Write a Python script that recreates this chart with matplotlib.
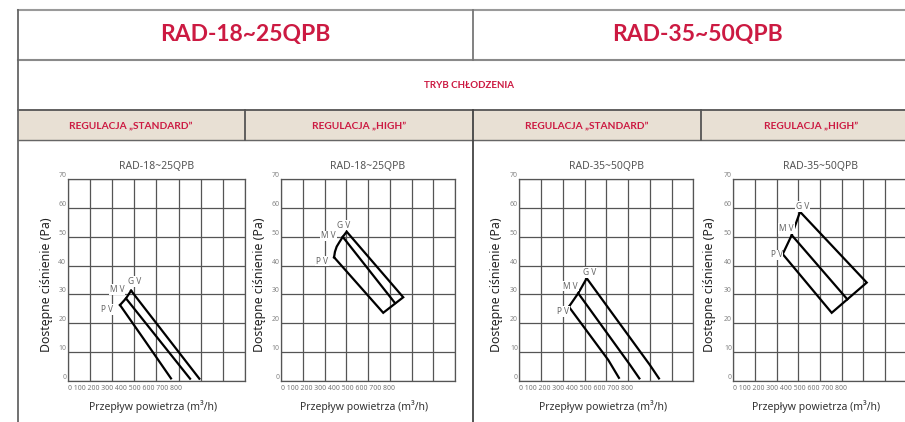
import matplotlib
matplotlib.use("Agg")
import matplotlib.pyplot as plt
from matplotlib.patches import Rectangle

plt.rcParams['font.family'] = ['Noto Sans', 'DejaVu Sans']

W, H = 905, 422
RED = '#CC1A42'
GRID = '#555555'
BOLD = ['Lato', 'DejaVu Sans']

# --- data (m3/h, Pa) ---
model_titles = ['RAD-18~25QPB', 'RAD-35~50QPB']
mode_title = 'TRYB CHŁODZENIA'
header_labels = ['REGULACJA „STANDARD”', 'REGULACJA „HIGH”',
                 'REGULACJA „STANDARD”', 'REGULACJA „HIGH”']
chart_titles = ['RAD-18~25QPB', 'RAD-18~25QPB', 'RAD-35~50QPB', 'RAD-35~50QPB']
y_ticks = [0, 10, 20, 30, 40, 50, 60, 70]
x_grid = [0, 100, 200, 300, 400, 500, 600, 700, 800]
x_tick_text = '0 100 200 300 400 500 600 700 800'
y_label = 'Dostępne ciśnienie (Pa)'
x_label = 'Przepływ powietrza (m³/h)'

# chart 1: RAD-18~25 standard
c1_pv_x = [236, 352, 466]
c1_pv_y = [26.3, 13.5, 0.8]
c1_mv_x = [263, 552]
c1_mv_y = [28.6, 0.7]
c1_gv_x = [286, 594]
c1_gv_y = [31.3, 0.7]
c1_edge_x = [236, 263, 286]
c1_edge_y = [26.3, 28.6, 31.3]

# chart 2: RAD-18~25 high (outline + MV line)
c2_out_x = [244, 248, 256, 268, 284, 302, 562, 470, 244]
c2_out_y = [42.9, 44.8, 46.6, 48.1, 50.0, 51.8, 29.0, 23.6, 42.9]
c2_mv_x = [284, 524]
c2_mv_y = [50.0, 27.0]

# chart 3: RAD-35~50 standard
c3_pv_x = [228, 409, 458]
c3_pv_y = [25.7, 7.2, 1.0]
c3_mv_x = [271, 509, 552]
c3_mv_y = [30.4, 5.5, 0.8]
c3_gv_x = [310, 600, 642]
c3_gv_y = [35.6, 5.5, 0.8]
c3_edge_x = [228, 271, 310]
c3_edge_y = [25.7, 30.4, 35.6]

# chart 4: RAD-35~50 high
c4_out_x = [228, 269.5, 308, 615.6, 454, 228]
c4_out_y = [44.0, 50.6, 58.7, 34.1, 23.6, 44.0]
c4_mv_x = [269.5, 526]
c4_mv_y = [50.6, 28.3]

# label positions (GV, MV, PV)
lab_names = ['G V', 'M V', 'P V']
c1_lab = [(300, 34.4), (224, 31.8), (179, 24.7)]
c2_lab = [(288, 54.1), (218, 50.3), (187, 41.6)]
c3_lab = [(325, 37.5), (236, 32.9), (202, 24.0)]
c4_lab = [(318, 60.5), (246, 53.0), (200, 43.7)]


def px_axes(fig, l, r, t, b):
    return fig.add_axes([l / W, 1 - b / H, (r - l) / W, (b - t) / H])


def draw_table(bg):
    bg.add_patch(Rectangle((18, 110), 930, 30, color='#E8E0D4', zorder=0))
    bg.plot([18, 930], [10, 10], color='#9a9a9a', lw=1.5)
    bg.plot([18, 930], [60, 60], color='#8a8a8a', lw=1.5)
    bg.plot([18, 930], [110, 110], color='#555555', lw=1.3)
    bg.plot([18, 930], [140, 140], color='#666666', lw=1.0)
    bg.plot([18, 18], [10, 422], color='#666666', lw=1.3)
    bg.plot([473, 473], [10, 60], color='#777777', lw=1.3)
    bg.plot([473, 473], [110, 422], color='#444444', lw=1.3)
    bg.plot([245, 245], [110, 140], color='#555555', lw=1.3)
    bg.plot([701, 701], [110, 140], color='#555555', lw=1.3)

    bg.text(245, 35, model_titles[0], color=RED, fontsize=16.5, family=BOLD,
            fontweight='bold', ha='center', va='center')
    bg.text(697, 35, model_titles[1], color=RED, fontsize=16.5, family=BOLD,
            fontweight='bold', ha='center', va='center')
    bg.text(469, 85.5, mode_title, color=RED, fontsize=7, family=BOLD,
            fontweight='bold', ha='center', va='center')
    for cx, txt in zip([131, 359, 587, 811], header_labels):
        bg.text(cx, 125.5, txt, color=RED, fontsize=7.3, family=BOLD,
                fontweight='bold', ha='center', va='center')


def setup_chart(ax, title, ylab_x):
    ax.set_xlim(0, 800)
    ax.set_ylim(0, 70)
    ax.set_xticks(x_grid)
    ax.set_xticklabels([])
    ax.set_yticks(y_ticks)
    ax.set_yticklabels([str(v) for v in y_ticks])
    ax.tick_params(length=0, pad=1, labelsize=5, labelcolor='#888888')
    for lab in ax.get_yticklabels():
        lab.set_va('bottom')
    ax.grid(True, color=GRID, lw=0.9)
    for s in ax.spines.values():
        s.set_color(GRID)
        s.set_linewidth(0.9)
    ax.set_axisbelow(True)
    ax.text(0.5, 1.063, title, transform=ax.transAxes, ha='center',
            va='center', fontsize=7.5, color='#555555')
    ax.text(0.0, -0.04, x_tick_text, transform=ax.transAxes, ha='left',
            va='center', fontsize=5, color='#777777')
    ax.text(ylab_x, 0.475, y_label, transform=ax.transAxes, rotation=90,
            ha='center', va='center', fontsize=8.9, color='#222222')
    ax.text(0.48, -0.13, x_label, transform=ax.transAxes, ha='center',
            va='center', fontsize=7.5, color='#333333')


def put_labels(ax, pos):
    for name, (x, y) in zip(lab_names, pos):
        ax.text(x, y, name, fontsize=6, color='#666666', ha='center',
                va='center', zorder=5,
                bbox=dict(boxstyle='square,pad=0.1', fc='white', ec='none'))


fig = plt.figure(figsize=(W / 100, H / 100), dpi=100)
bg = fig.add_axes([0, 0, 1, 1])
bg.set_xlim(0, W)
bg.set_ylim(H, 0)
bg.axis('off')
draw_table(bg)

top, bottom = 179.3, 380.7
ax1 = px_axes(fig, 67.7, 245, top, bottom)
ax2 = px_axes(fig, 281, 455, top, bottom)
ax3 = px_axes(fig, 519.3, 693.3, top, bottom)
ax4 = px_axes(fig, 733.3, 906.7, top, bottom)

ylab_pos = [-0.118, -0.126, -0.130, -0.135]
for ax, t, yx in zip([ax1, ax2, ax3, ax4], chart_titles, ylab_pos):
    setup_chart(ax, t, yx)

lk = dict(color='black', lw=1.6, solid_joinstyle='miter', zorder=4)
ax1.plot(c1_pv_x, c1_pv_y, **lk)
ax1.plot(c1_mv_x, c1_mv_y, **lk)
ax1.plot(c1_gv_x, c1_gv_y, **lk)
ax1.plot(c1_edge_x, c1_edge_y, **lk)
put_labels(ax1, c1_lab)

ax2.plot(c2_out_x, c2_out_y, **lk)
ax2.plot(c2_mv_x, c2_mv_y, **lk)
put_labels(ax2, c2_lab)

ax3.plot(c3_pv_x, c3_pv_y, **lk)
ax3.plot(c3_mv_x, c3_mv_y, **lk)
ax3.plot(c3_gv_x, c3_gv_y, **lk)
ax3.plot(c3_edge_x, c3_edge_y, **lk)
put_labels(ax3, c3_lab)

ax4.plot(c4_out_x, c4_out_y, **lk)
ax4.plot(c4_mv_x, c4_mv_y, **lk)
put_labels(ax4, c4_lab)

fig.savefig('out.png', dpi=100)
